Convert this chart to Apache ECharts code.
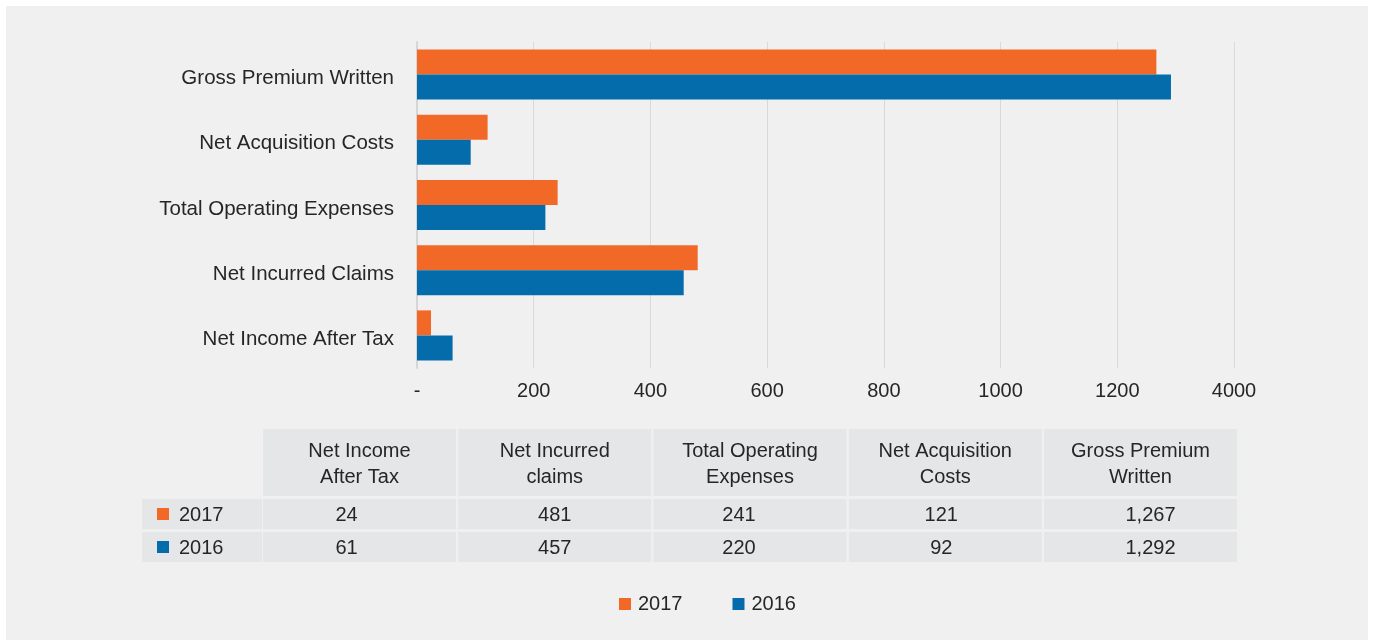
<!DOCTYPE html>
<html>
<head>
<meta charset="utf-8">
<script src="https://cdn.jsdelivr.net/npm/echarts@6/dist/echarts.min.js"></script>
<style>
  html, body { margin: 0; padding: 0; background: #ffffff; }
  #panel { position: absolute; left: 6px; top: 6px; width: 1362px; height: 634px; background: #f0f0f0; }
  #chart { position: absolute; left: 0; top: 0; width: 1373px; height: 642px; }
</style>
</head>
<body>
<div id="panel"></div>
<div id="chart"></div>
<script>
// Categories, bottom to top on the chart (left to right in the table)
const categories = ['Net Income After Tax', 'Net Incurred Claims', 'Total Operating Expenses', 'Net Acquisition Costs', 'Gross Premium Written'];
const tableHeaders = ['Net Income\nAfter Tax', 'Net Incurred\nclaims', 'Total Operating\nExpenses', 'Net Acquisition\nCosts', 'Gross Premium\nWritten'];
const years = ['2017', '2016'];
const values2017 = [24, 481, 241, 121, 1267];
const values2016 = [61, 457, 220, 92, 1292];
const axisTickLabels = ['-', '200', '400', '600', '800', '1000', '1200', '4000'];

const FONT_FAMILY = '"Liberation Sans", Arial, Helvetica, sans-serif';
const TEXT_COLOR = '#262626';
const CELL_COLOR = '#e5e6e8';
const COLORS = { '2017': '#f26826', '2016': '#046cab' };
const seriesValues = { '2017': values2017, '2016': values2016 };

// Data table geometry
const table = {
  labelX: 142, labelW: 120,
  colX: 263, colStep: 195.25, colW: 193,
  headerY: 429, headerH: 67,
  rowY: [499, 532], rowH: 30
};
const valueNudge = [-13, 0, -11, -4, 10];

function fmt(v) {
  return v.toLocaleString('en-US');
}

const graphics = [];
tableHeaders.forEach((h, i) => {
  const x = table.colX + i * table.colStep;
  graphics.push({
    type: 'rect', silent: true,
    shape: { x: x, y: table.headerY, width: table.colW, height: table.headerH },
    style: { fill: CELL_COLOR }
  });
  graphics.push({
    type: 'text', silent: true,
    x: x + table.colW / 2, y: table.headerY + table.headerH / 2 + 2,
    style: {
      text: h, fill: TEXT_COLOR, fontSize: 20, fontFamily: FONT_FAMILY,
      align: 'center', verticalAlign: 'middle', lineHeight: 26
    }
  });
});

years.forEach((yr, r) => {
  const y = table.rowY[r];
  const cy = y + table.rowH / 2;
  graphics.push({
    type: 'rect', silent: true,
    shape: { x: table.labelX, y: y, width: table.labelW, height: table.rowH },
    style: { fill: CELL_COLOR }
  });
  graphics.push({
    type: 'rect', silent: true,
    shape: { x: table.labelX + 15, y: cy - 6, width: 12, height: 12 },
    style: { fill: COLORS[yr] }
  });
  graphics.push({
    type: 'text', silent: true,
    x: table.labelX + 37, y: cy + 1,
    style: {
      text: yr, fill: TEXT_COLOR, fontSize: 20, fontFamily: FONT_FAMILY,
      align: 'left', verticalAlign: 'middle'
    }
  });
  seriesValues[yr].forEach((v, i) => {
    const x = table.colX + i * table.colStep;
    graphics.push({
      type: 'rect', silent: true,
      shape: { x: x, y: y, width: table.colW, height: table.rowH },
      style: { fill: CELL_COLOR }
    });
    graphics.push({
      type: 'text', silent: true,
      x: x + table.colW / 2 + valueNudge[i], y: cy + 1,
      style: {
        text: fmt(v), fill: TEXT_COLOR, fontSize: 20, fontFamily: FONT_FAMILY,
        align: 'center', verticalAlign: 'middle'
      }
    });
  });
});

const chart = echarts.init(document.getElementById('chart'), null, { renderer: 'canvas' });
chart.setOption({
  backgroundColor: 'transparent',
  animation: false,
  textStyle: { fontFamily: FONT_FAMILY },
  grid: { left: 417, top: 42, width: 817, height: 326, containLabel: false },
  legend: {
    data: years,
    left: 619, top: 594, padding: 0,
    icon: 'rect', itemWidth: 12, itemHeight: 12, itemGap: 50,
    textStyle: { fontSize: 20, color: TEXT_COLOR, fontFamily: FONT_FAMILY, padding: [0, 0, 0, 2] }
  },
  xAxis: {
    type: 'value',
    min: 0, max: 1400, interval: 200,
    axisLine: { show: false },
    axisTick: { show: false },
    splitLine: { show: true, lineStyle: { color: '#d9d9d9', width: 1 } },
    axisLabel: {
      fontSize: 20, color: TEXT_COLOR, margin: 13,
      formatter: (v) => axisTickLabels[Math.round(v / 200)]
    }
  },
  yAxis: {
    type: 'category',
    data: categories,
    axisLine: { show: true, lineStyle: { color: '#d6d6d6', width: 2 } },
    axisTick: { show: false },
    axisLabel: {
      fontSize: 20.5, color: TEXT_COLOR, margin: 23,
      verticalAlign: 'top', lineHeight: 8
    }
  },
  series: years.map((yr) => ({
    name: yr,
    type: 'bar',
    data: seriesValues[yr],
    barWidth: 25,
    barGap: '0%',
    itemStyle: { color: COLORS[yr] }
  })),
  graphic: graphics
});
</script>
</body>
</html>
